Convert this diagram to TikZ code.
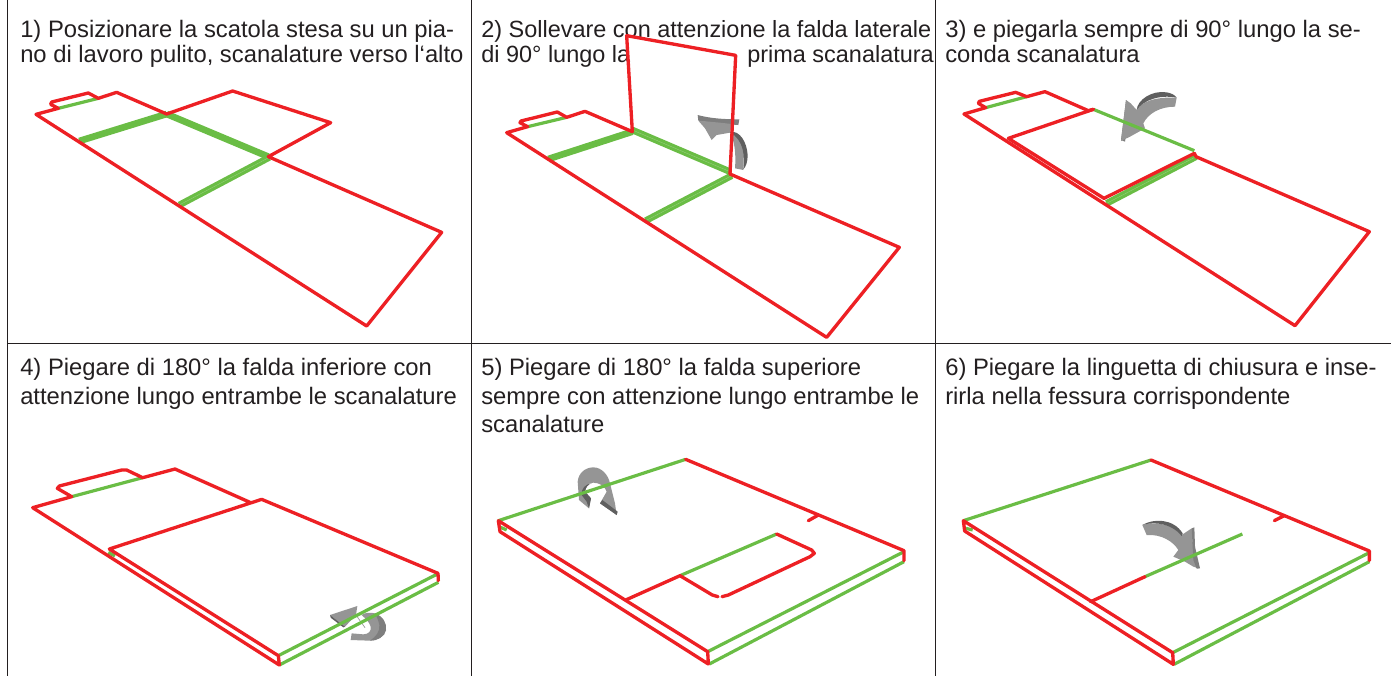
\documentclass[tikz,border=0pt]{standalone}
\usepackage{fontspec}
\setmainfont{Liberation Sans}
\definecolor{rd}{HTML}{ED2024}
\definecolor{gn}{HTML}{6ABD45}
\definecolor{tx}{HTML}{231F20}
\definecolor{ga}{HTML}{959595}
\definecolor{gb}{HTML}{5F5F5F}
\definecolor{gc}{HTML}{7E7E7E}
\tikzset{
  zoomed/.style={x=.25pt,y=-.25pt},
  rline/.style={draw=rd,line width=2.5pt,line join=round,line cap=round},
  gline/.style={draw=gn,line width=2.4pt},
  gthick/.style={draw=gn,line width=5pt},
  wcentre/.style={draw=gn!65!white,line width=.2pt},
  captxt/.style={anchor=base west,inner sep=0pt,text=tx,font=\fontsize{17.85pt}{21pt}\selectfont},
  captight/.style={anchor=base west,inner sep=0pt,text=tx,font=\fontsize{17.6pt}{21pt}\selectfont},
  gridln/.style={draw=tx,line width=.7pt},
  abody/.style={fill=ga},
  adark/.style={fill=gb},
  amid/.style={fill=gc}
}
\begin{document}
\begin{tikzpicture}[x=.75pt,y=-.75pt]
\useasboundingbox (0,0) rectangle (1391,676);
\draw[gridln] (7,0) -- (7,676);
\draw[gridln] (471,0) -- (471,676);
\draw[gridln] (935,0) -- (935,676);
\draw[gridln] (7,343.5) -- (1391,343.5);
% captions
\node[captxt] (c1a) at (20,37) {1) Posizionare la scatola stesa su un pia-};
\node[captxt] (c1b) at (20,62) {no di lavoro pulito, scanalature verso l‘alto};
\node[captight] (c2a) at (481,37) {2) Sollevare con attenzione la falda laterale};
\node[captight] (c2b) at (481,62) {di 90° lungo la};
\node[captight] (c2c) at (747,62) {prima scanalatura};
\node[captxt] (c3a) at (945,37) {3) e piegarla sempre di 90° lungo la se-};
\node[captxt] (c3b) at (945,62) {conda scanalatura};
\node[captxt] (c4a) at (20,375) {4) Piegare di 180° la falda inferiore con};
\node[captxt] (c4b) at (20,404) {attenzione lungo entrambe le scanalature};
\node[captxt] (c5a) at (481,375) {5) Piegare di 180° la falda superiore};
\node[captxt] (c5b) at (481,404) {sempre con attenzione lungo entrambe le};
\node[captxt] (c5c) at (481,432) {scanalature};
\node[captxt] (c6a) at (945,375) {6) Piegare la linguetta di chiusura e inse-};
\node[captxt] (c6b) at (945,404) {rirla nella fessura corrispondente};
% panel 1
\begin{scope}[shift={(0,70)},zoomed]
\draw[gline] (175,115) -- (295,85);
\draw[gthick] (238,213) -- (500,132);
\draw[gthick] (500,132) -- (805,260);
\draw[gthick] (538,405) -- (808,262);
\draw[wcentre] (538,405) -- (808,262);
\draw[rline] (108,133) -- (175,115) -- (152,103) -- (155,96) -- (265,69) -- (295,85) -- (350,67) -- (500,132) -- (698,63) -- (992,158) -- (805,260) -- (1325,487) -- (1100,768) -- cycle;
\end{scope}
% panel 2
\begin{scope}[shift={(680,100)},zoomed]
\fill[amid] (53,45) .. controls (90,55) and (130,58) .. (178,58) -- (175,75) .. controls (130,72) and (90,68) .. (55,62) -- cycle;
\fill[abody] (55,62) -- (75,85) -- (95,120) -- (110,105) -- (150,98) -- (155,72) -- (120,68) -- cycle;
\fill[abody] (150,98) .. controls (165,125) and (168,165) .. (165,205) -- (190,210) -- (192,150) .. controls (188,125) and (175,105) .. (150,97) -- cycle;
\fill[adark] (150,95) .. controls (180,92) and (200,125) .. (203,165) .. controls (203,185) and (198,200) .. (190,208) .. controls (195,170) and (192,120) .. (150,97) -- cycle;
\end{scope}
\begin{scope}[shift={(480,30)},zoomed]
\draw[gline] (143,290) -- (260,262);
\draw[gthick] (205,387) -- (457,305);
\draw[gthick] (457,300) -- (750,425);
\draw[wcentre] (457,300) -- (750,425);
\draw[gthick] (497,572) -- (755,437);
\draw[wcentre] (497,572) -- (755,437);
\draw[rline] (457,305) -- (315,244) -- (260,262) -- (232,246) -- (123,273) -- (120,278) -- (143,290) -- (80,308) -- (1040,922) -- (1258,652) -- (750,432);
\draw[rline] (457,305) -- (440,17) -- (767,76) -- (750,432);
\end{scope}
% panel 3
\begin{scope}[shift={(1110,85)},zoomed]
\fill[amid] (48,45) -- (33,165) -- (45,170) -- (62,60) -- cycle;
\fill[abody] (48,45) -- (62,55) -- (80,75) .. controls (95,50) and (135,35) .. (200,38) -- (195,65) .. controls (150,65) and (115,85) .. (100,115) -- (105,130) -- (60,155) -- (33,168) -- cycle;
\fill[adark] (80,75) .. controls (82,45) and (125,15) .. (170,22) .. controls (185,25) and (195,30) .. (200,38) .. controls (150,28) and (100,45) .. (80,75) -- cycle;
\end{scope}
\begin{scope}[shift={(950,70)},zoomed]
\draw[gline] (107,113) -- (230,80);
\draw[gline] (430,118) -- (733,242);
\draw[gthick] (470,400) -- (738,260);
\draw[wcentre] (470,400) -- (738,260);
\draw[rline] (430,118) -- (175,205) -- (462,385) -- (733,250);
\draw[rline] (42,132) -- (107,113) -- (85,100) -- (88,94) -- (197,67) -- (230,80) -- (285,65) -- (415,122) -- (430,118);
\draw[rline] (733,250) -- (738,260) -- (1258,485) -- (1035,767) -- (42,132);
\end{scope}
% panel 4
\begin{scope}[shift={(320,595)},zoomed]
\fill[abody] (125,60) .. controls (135,52) and (150,52) .. (165,55) .. controls (190,65) and (200,85) .. (198,105) .. controls (195,125) and (170,138) .. (150,137) -- (92,135) -- (95,115) -- (130,118) .. controls (145,118) and (155,108) .. (152,95) .. controls (148,80) and (135,70) .. (125,60) -- cycle;
\fill[amid] (165,55) .. controls (190,65) and (200,85) .. (198,105) .. controls (195,125) and (170,138) .. (150,137) .. controls (168,125) and (180,110) .. (178,90) .. controls (175,75) and (170,65) .. (165,55) -- cycle;
\fill[abody] (30,60) -- (112,33) -- (108,60) -- (75,95) -- cycle;
\fill[adark] (30,60) -- (32,68) -- (70,97) -- (75,95) -- cycle;
\draw[draw=ga,line width=.5pt] (108,60) -- (135,98);
\end{scope}
\begin{scope}[shift={(0,450)},zoomed]
\draw[gline] (215,140) -- (428,83);
\draw[gline] (325,307) -- (345,318);
\draw[gline] (835,617) -- (1312,372);
\draw[gline] (838,645) -- (1315,397);
\draw[rline] (750,157) -- (525,57) -- (428,83) -- (380,60) -- (365,60) -- (178,108) -- (172,115) -- (215,140) -- (98,173) -- (838,645) -- (835,617) -- (328,297) -- (785,148) -- (1314,370) -- (1315,392);
\end{scope}
% panel 5
\begin{scope}[shift={(565,460)},zoomed]
\fill[abody] (38,65) .. controls (40,40) and (60,22) .. (85,22) .. controls (110,22) and (130,45) .. (135,70) -- (150,130) -- (155,165) -- (105,130) -- (125,95) .. controls (120,80) and (105,68) .. (85,68) .. controls (70,68) and (60,80) .. (60,95) -- (78,115) -- (72,145) -- (42,120) -- cycle;
\fill[adark] (72,145) -- (78,115) -- (60,95) .. controls (62,82) and (70,72) .. (80,70) .. controls (62,72) and (48,85) .. (50,105) -- (65,125) -- cycle;
\fill[adark] (105,130) -- (155,165) -- (158,155) -- (112,120) -- cycle;
\end{scope}
\begin{scope}[shift={(480,450)},zoomed]
\draw[gline] (55,212) -- (617,28);
\draw[gline] (1272,305) -- (683,605);
\draw[gline] (688,642) -- (1272,335);
\draw[gline] (62,232) -- (80,240);
\draw[gline] (600,377) -- (890,252);
\draw[rline] (617,28) -- (1272,302) -- (1272,332);
\draw[rline] (55,212) -- (683,605) -- (685,642) -- (60,245) -- (55,212);
\draw[rline] (437,450) -- (600,377) -- (697,435) -- (714,440);
\draw[rline] (726,440) -- (745,435) -- (990,320) -- (1003,310) -- (995,300) -- (890,252);
\draw[rline] (1015,195) -- (985,212);
\end{scope}
% panel 6
\begin{scope}[shift={(1130,510)},zoomed]
\fill[abody] (185,55) -- (190,120) -- (205,175) -- (190,170) -- (165,155) -- (130,140) -- (145,120) .. controls (130,95) and (95,72) .. (50,75) -- (37,45) .. controls (70,35) and (130,40) .. (155,75) -- cycle;
\fill[adark] (37,45) .. controls (70,25) and (130,25) .. (158,70) -- (155,78) .. controls (130,45) and (80,32) .. (37,45) -- cycle;
\fill[amid] (185,55) -- (193,52) -- (195,110) -- (210,175) -- (200,176) -- (190,150) -- cycle;
\end{scope}
\begin{scope}[shift={(950,450)},zoomed]
\draw[gline] (40,212) -- (603,30);
\draw[gline] (1258,308) -- (668,608);
\draw[gline] (672,643) -- (1258,335);
\draw[gline] (48,235) -- (68,240);
\draw[gline] (585,380) -- (877,252);
\draw[rline] (603,30) -- (1258,303) -- (1258,332);
\draw[rline] (40,212) -- (668,608) -- (670,643) -- (44,243) -- (40,212);
\draw[rline] (422,455) -- (585,380);
\draw[rline] (1003,197) -- (973,212);
\end{scope}
\end{tikzpicture}
\end{document}
